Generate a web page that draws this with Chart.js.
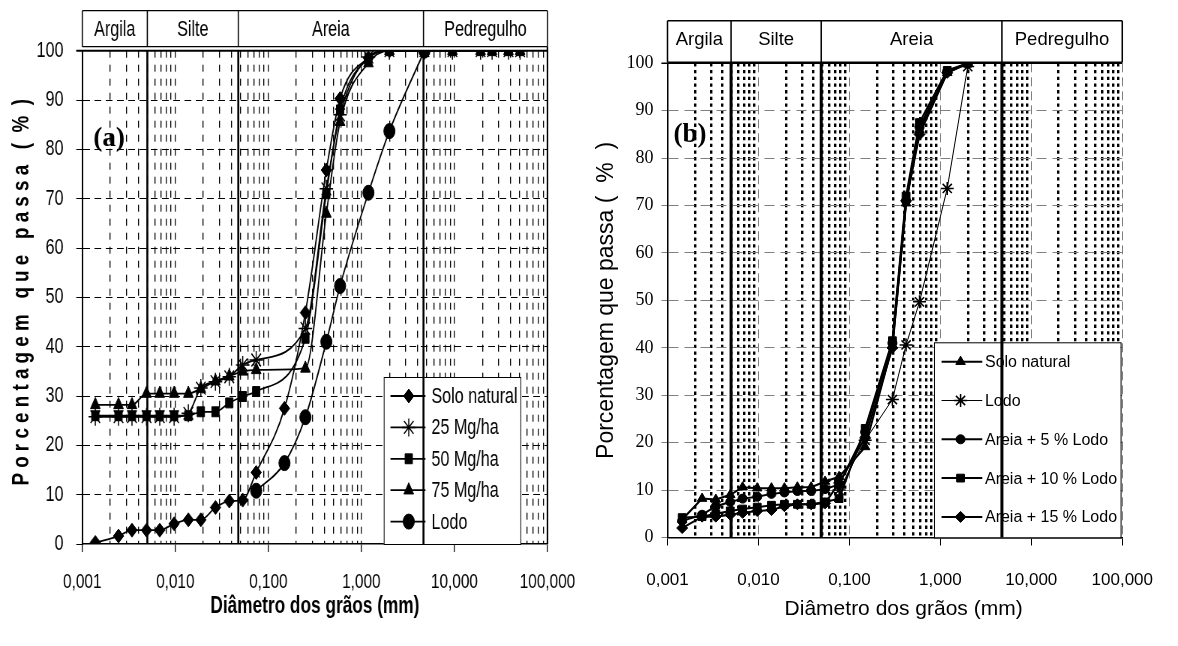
<!DOCTYPE html>
<html lang="pt">
<head>
<meta charset="utf-8">
<title>Curvas granulométricas</title>
<script src="https://cdn.jsdelivr.net/npm/chart.js"></script>
<style>
  body { margin: 0; background: #fff; }
  #chartA { position: absolute; left: 0; top: 0; transform: scaleX(0.75); transform-origin: 0 0; }
  #boxB { position: absolute; top: 0; left: 589px; width: 589px; height: 646px; }
</style>
</head>
<body>
<canvas id="chartA" width="785" height="646"></canvas>
<div id="boxB"><canvas id="chartB"></canvas></div>
<script>
// eixo x comum (escala log)
const decades = [0.001, 0.01, 0.1, 1, 10, 100];
const decadeLabels = ['0,001', '0,010', '0,100', '1,000', '10,000', '100,000'];
const zoneNames = ['Argila', 'Silte', 'Areia', 'Pedregulho'];

// grafico (a)
const zoneLimitsA = [0.005, 0.0475, 4.65];
const diamA = [0.00138, 0.00245, 0.00342, 0.0049, 0.0068, 0.0097, 0.0138, 0.0188, 0.027, 0.038, 0.053, 0.074, 0.149, 0.25, 0.42, 0.59, 1.19, 2.0, 4.76, 9.52, 19.1, 25.4, 38.1, 50.8];
const soloA = [0.3, 1.6, 2.8, 2.8, 2.8, 4.1, 4.9, 4.9, 7.4, 8.7, 8.9, 14.5, 27.5, 46.9, 75.8, 90.3, 98.5, 100, 100, null, null, null, null, null];
const mg25A = [25.8, 25.8, 25.8, 25.8, 25.8, 25.8, 26.5, 31.6, 32.9, 33.9, 36.3, 37.3, null, 43.7, 72.0, 87.0, 98.7, 100, 100, 100, 100, 100, 100, 100];
const mg50A = [26.0, 26.0, 26.0, 26.0, 26.0, 26.0, 26.0, 26.8, 26.8, 28.6, 29.9, 30.9, null, 41.7, 71.0, 88.0, 98.5, 100, 100, 100, 100, 100, 100, 100];
const mg75A = [28.2, 28.2, 28.2, 30.5, 30.5, 30.5, 30.5, 31.5, 33.0, 34.0, 35.0, 35.3, null, 35.6, 67.0, 85.6, 97.5, 100, 100, 100, 100, 100, 100, 100];
const lodoA = [null, null, null, null, null, null, null, null, null, null, null, 10.8, 16.4, 25.7, 41.0, 52.3, 71.2, 83.7, 100, null, null, null, null, null];

// grafico (b)
const zoneLimitsB = [0.005, 0.049, 4.75];
const diamB = [0.00145, 0.0024, 0.0034, 0.0049, 0.0067, 0.0097, 0.0139, 0.0193, 0.0268, 0.038, 0.054, 0.077, 0.149, 0.297, 0.42, 0.59, 1.19, 2.0];
const soloB = [3.8, 8.2, 8.0, 9.0, 10.6, 10.4, 10.4, 10.4, 10.6, 10.6, 11.8, 12.8, 19.1, 40.5, 70.5, 86.0, 98.0, 100];
const lodoB = [null, null, null, null, null, null, null, null, null, null, null, 10.0, 20.5, 29.1, 40.6, 49.7, 73.6, 99.3];
const areia5B = [3.5, 4.8, 6.6, 7.5, 8.2, 8.6, 9.2, 9.5, 9.8, 9.8, 10.2, 11.2, 22.2, 41.0, 71.0, 86.5, 98.3, 100];
const areia10B = [4.2, 4.4, 5.0, 5.6, 6.0, 6.4, 6.8, 7.0, 7.0, 7.0, 7.5, 8.2, 23.0, 41.5, 72.0, 87.5, 98.5, 100];
const areia15B = [2.0, 4.4, 4.4, 4.8, 5.2, 5.6, 5.8, 6.6, 7.0, 7.0, 7.2, 11.5, 21.0, 40.0, 71.0, 85.0, 98.0, 100];

const SANS = "'Liberation Sans', Arial, sans-serif";
const SERIF = "'Liberation Serif', 'Times New Roman', serif";

// o painel (a) usa letra estreita: o canvas e desenhado largo e comprimido no css
const SQ = 0.75;
const sx = (v) => v / SQ;

// ticks 1..9 de cada decada
const logTicks = [];
for (let d = 0; d < decades.length - 1; d++) {
    for (let k = 1; k <= 9; k++) logTicks.push(decades[d] * k);
}
logTicks.push(decades[decades.length - 1]);

function isDecade(v) { return decades.indexOf(v) >= 0; }

function series(label, xs, ys, style, radius, lineW, smooth) {
    return {
        label: label,
        data: xs.map((x, i) => ({ x: x, y: ys[i] })).filter(p => p.y !== null),
        borderColor: '#000',
        backgroundColor: '#000',
        borderWidth: lineW,
        pointStyle: style,
        pointRadius: radius,
        pointBorderWidth: style === 'star' ? 1.5 : 1,
        cubicInterpolationMode: smooth ? 'monotone' : 'default',
        tension: 0
    };
}

function drawPointSafe(ctx, opts, x, y) {
    if (Chart.helpers && Chart.helpers.drawPoint) {
        Chart.helpers.drawPoint(ctx, opts, x, y);
    }
}

function decoPlugin(cfg) {
    return {
        id: 'deco',
        afterDraw(chart) {
            const ctx = chart.ctx, a = chart.chartArea, xs = chart.scales.x;
            ctx.save();

            // legenda dentro do grafico
            const L = cfg.legend;
            const lx = a.right - L.fromRight, ly = a.bottom - L.fromBottom;
            ctx.fillStyle = '#fff';
            ctx.fillRect(lx, ly, L.width, a.bottom - ly);
            ctx.strokeStyle = '#000';
            ctx.lineWidth = 1;
            ctx.strokeRect(lx + 0.5, ly + 0.5, L.width, a.bottom - ly);
            ctx.font = L.font;
            ctx.textBaseline = 'middle';
            ctx.textAlign = 'left';
            chart.data.datasets.forEach((ds, i) => {
                const y = ly + L.first + i * L.step;
                ctx.strokeStyle = '#000';
                ctx.lineWidth = ds.borderWidth;
                ctx.beginPath();
                ctx.moveTo(lx + L.line0, y);
                ctx.lineTo(lx + L.line1, y);
                ctx.stroke();
                ctx.fillStyle = '#000';
                ctx.lineWidth = ds.pointBorderWidth;
                drawPointSafe(ctx, { pointStyle: ds.pointStyle, radius: ds.pointRadius, borderWidth: ds.pointBorderWidth, rotation: 0 }, lx + L.mark, y);
                ctx.fillStyle = '#000';
                ctx.fillText(ds.label, lx + L.text, y + 1);
            });

            // limites das fracoes
            const px = cfg.zones.map(v => xs.getPixelForValue(v));
            ctx.strokeStyle = '#000';
            ctx.lineWidth = cfg.zoneWidth;
            px.forEach(p => {
                ctx.beginPath();
                ctx.moveTo(p, a.top);
                ctx.lineTo(p, a.bottom);
                ctx.stroke();
            });

            // cabecalho Argila / Silte / Areia / Pedregulho
            const hTop = cfg.headTop, hBot = a.top - cfg.headGap;
            const edges = [a.left].concat(px, [a.right]);
            ctx.fillStyle = '#fff';
            ctx.fillRect(a.left, hTop, a.right - a.left, hBot - hTop);
            ctx.lineWidth = cfg.headLine;
            ctx.beginPath();
            ctx.moveTo(a.left, hTop); ctx.lineTo(a.right, hTop);
            ctx.moveTo(a.left, hBot); ctx.lineTo(a.right, hBot);
            ctx.stroke();
            ctx.lineWidth = cfg.headLineV;
            ctx.beginPath();
            edges.forEach(p => { ctx.moveTo(p, hTop); ctx.lineTo(p, hBot); });
            ctx.stroke();
            ctx.fillStyle = '#000';
            ctx.font = cfg.headFont;
            ctx.textAlign = 'center';
            ctx.textBaseline = 'middle';
            zoneNames.forEach((n, i) => {
                ctx.fillText(n, (edges[i] + edges[i + 1]) / 2, (hTop + hBot) / 2 + cfg.headShift);
            });

            // moldura superior e direita
            ctx.lineWidth = cfg.frameWidth;
            ctx.beginPath();
            ctx.moveTo(a.left - cfg.tickOut, a.top);
            ctx.lineTo(a.right, a.top);
            ctx.stroke();
            if (cfg.rightWidth) {
                ctx.lineWidth = cfg.rightWidth;
                ctx.beginPath();
                ctx.moveTo(a.right, hBot);
                ctx.lineTo(a.right, a.bottom);
                ctx.stroke();
            }

            // rotulo do painel, sem compressao
            ctx.save();
            ctx.translate(a.left + cfg.panelDx, a.top + cfg.panelDy);
            ctx.scale(cfg.unsquash, 1);
            ctx.font = cfg.panelFont;
            ctx.textAlign = 'left';
            ctx.fillText(cfg.panel, 0, 0);
            ctx.restore();

            // titulo vertical espacado (so no painel a)
            if (cfg.yTitle) {
                const T = cfg.yTitle;
                ctx.save();
                ctx.translate(T.x, (a.top + a.bottom) / 2 + T.dy);
                ctx.scale(cfg.unsquash, 1);
                ctx.rotate(-Math.PI / 2);
                ctx.scale(T.narrow, 1);
                ctx.font = T.font;
                ctx.textAlign = 'center';
                ctx.textBaseline = 'middle';
                ctx.fillText(T.text, 0, 0);
                ctx.restore();
            }
            ctx.restore();
        }
    };
}

function xTickLabel(v) {
    const i = decades.indexOf(v);
    return i >= 0 ? decadeLabels[i] : '';
}

// ---------- (a) ----------
new Chart(document.getElementById('chartA'), {
    type: 'line',
    data: {
        datasets: [
            series('Solo natural', diamA, soloA, 'rectRot', 7, 1.8, true),
            series('25 Mg/ha', diamA, mg25A, 'star', 9, 1.8, true),
            series('50 Mg/ha', diamA, mg50A, 'rect', 7, 1.8, true),
            series('75 Mg/ha', diamA, mg75A, 'triangle', 7.5, 1.8, true),
            series('Lodo', diamA, lodoA, 'circle', 7.5, 1.8, true)
        ]
    },
    options: {
        responsive: false,
        animation: false,
        devicePixelRatio: 1,
        layout: { padding: { top: 50.7, right: 785 - sx(548.7), left: 0, bottom: 0 } },
        plugins: { legend: { display: false }, tooltip: { enabled: false } },
        scales: {
            x: {
                type: 'logarithmic',
                min: 0.001,
                max: 100,
                afterFit: (s) => { s.height = 102; },
                afterBuildTicks: (s) => { s.ticks = logTicks.map(v => ({ value: v })); },
                ticks: { autoSkip: false, maxRotation: 0, padding: 18, color: '#000', font: { family: SANS, size: 20.5 }, callback: xTickLabel },
                grid: {
                    color: (c) => (c.tick && c.tick.value > 0.001 && c.tick.value < 100) ? '#000' : 'rgba(0,0,0,0)',
                    lineWidth: sx(1),
                    tickColor: (c) => (c.tick && isDecade(c.tick.value)) ? '#000' : 'rgba(0,0,0,0)',
                    tickLength: 8
                },
                border: { color: '#000', width: 1.5, dash: [7, 7] },
                title: { display: true, text: 'Diâmetro dos grãos (mm)', color: '#000', font: { family: SANS, size: 23, weight: 'bold' }, padding: { top: 0, bottom: 26 } }
            },
            y: {
                min: 0,
                max: 100,
                afterFit: (s) => { s.width = sx(82.3); },
                ticks: { stepSize: 10, padding: 17, color: '#000', font: { family: SANS, size: 21.5 } },
                grid: {
                    color: (c) => (c.tick && c.tick.value > 0 && c.tick.value < 100) ? '#000' : 'rgba(0,0,0,0)',
                    lineWidth: 1,
                    tickColor: '#000',
                    tickLength: sx(6)
                },
                border: { color: '#000', width: sx(1.5), dash: [9, 6] },
                title: { display: false }
            }
        }
    },
    plugins: [decoPlugin({
        zones: zoneLimitsA, zoneWidth: sx(2),
        headTop: 10.7, headGap: 4, headLine: 1.2, headLineV: sx(1.2), headFont: '21.5px ' + SANS, headShift: 1,
        frameWidth: 2, rightWidth: sx(1.6), tickOut: sx(6),
        unsquash: 1 / SQ,
        panel: '(a)', panelFont: 'bold 27px ' + SERIF, panelDx: sx(11), panelDy: 88,
        yTitle: { text: 'P o r c e n t a g e m   q u e   p a s s a   (  %  )', x: sx(22), dy: -5, narrow: 0.8, font: 'bold 23.5px ' + SANS },
        legend: { fromRight: sx(163.7), fromBottom: 167, width: sx(136.7), first: 19, step: 31.4, line0: sx(6.7), line1: sx(41.7), mark: sx(25), text: sx(47.7), font: '21.5px ' + SANS }
    })]
});

// ---------- (b) ----------
new Chart(document.getElementById('chartB'), {
    type: 'line',
    data: {
        datasets: [
            series('Solo natural', diamB, soloB, 'triangle', 5.5, 2, false),
            series('Lodo', diamB, lodoB, 'star', 6.5, 1, false),
            series('Areia + 5 % Lodo', diamB, areia5B, 'circle', 4.5, 2, false),
            series('Areia + 10 % Lodo', diamB, areia10B, 'rect', 5.5, 2, false),
            series('Areia + 15 % Lodo', diamB, areia15B, 'rectRot', 5.5, 2, false)
        ]
    },
    options: {
        responsive: true,
        maintainAspectRatio: false,
        animation: false,
        layout: { padding: { top: 63.3, right: 43, left: 0, bottom: 0 } },
        plugins: { legend: { display: false }, tooltip: { enabled: false } },
        scales: {
            x: {
                type: 'logarithmic',
                min: 0.001,
                max: 100,
                afterFit: (s) => { s.height = 108.5; },
                afterBuildTicks: (s) => { s.ticks = logTicks.map(v => ({ value: v })); },
                ticks: { autoSkip: false, maxRotation: 0, padding: 25, color: '#000', font: { family: SANS, size: 17 }, callback: xTickLabel },
                grid: {
                    color: (c) => {
                        if (!c.tick || c.tick.value <= 0.001) return 'rgba(0,0,0,0)';
                        return isDecade(c.tick.value) ? '#808080' : '#000';
                    },
                    lineWidth: (c) => (c.tick && isDecade(c.tick.value)) ? 1 : 2.4,
                    tickColor: (c) => (c.tick && isDecade(c.tick.value)) ? '#000' : 'rgba(0,0,0,0)',
                    tickWidth: 1,
                    tickLength: 8
                },
                border: {
                    color: '#000', width: 1.5,
                    dash: (c) => (c.tick && isDecade(c.tick.value)) ? [9, 5] : [3.3, 3.4]
                },
                title: { display: true, text: '   Diâmetro dos grãos (mm)', color: '#000', font: { family: SANS, size: 21 }, padding: { top: 0, bottom: 24 } }
            },
            y: {
                min: 0,
                max: 100,
                afterFit: (s) => { s.width = 78.5; },
                ticks: { stepSize: 10, padding: 8, color: '#000', font: { family: SERIF, size: 18 } },
                grid: {
                    color: (c) => (c.tick && c.tick.value > 0 && c.tick.value < 100) ? '#808080' : 'rgba(0,0,0,0)',
                    lineWidth: 1,
                    tickColor: '#808080',
                    tickLength: 6
                },
                border: { color: '#000', width: 1.5, dash: [10, 6] },
                title: { display: true, text: 'Porcentagem que passa (  %  )', color: '#000', font: { family: SANS, size: 23 }, padding: { top: 4, bottom: 0 } }
            }
        }
    },
    plugins: [decoPlugin({
        zones: zoneLimitsB, zoneWidth: 3,
        headTop: 20.7, headGap: 1, headLine: 1.5, headLineV: 1.5, headFont: '18.5px ' + SANS, headShift: -2,
        frameWidth: 1.5, rightWidth: 0, tickOut: 6,
        unsquash: 1,
        panel: '(b)', panelFont: 'bold 27px ' + SERIF, panelDx: 6, panelDy: 72,
        yTitle: null,
        legend: { fromRight: 188.3, fromBottom: 195.2, width: 186.6, first: 19.4, step: 38.8, line0: 7.6, line1: 48.3, mark: 26.6, text: 51, font: '16px ' + SANS }
    })]
});
</script>
</body>
</html>
